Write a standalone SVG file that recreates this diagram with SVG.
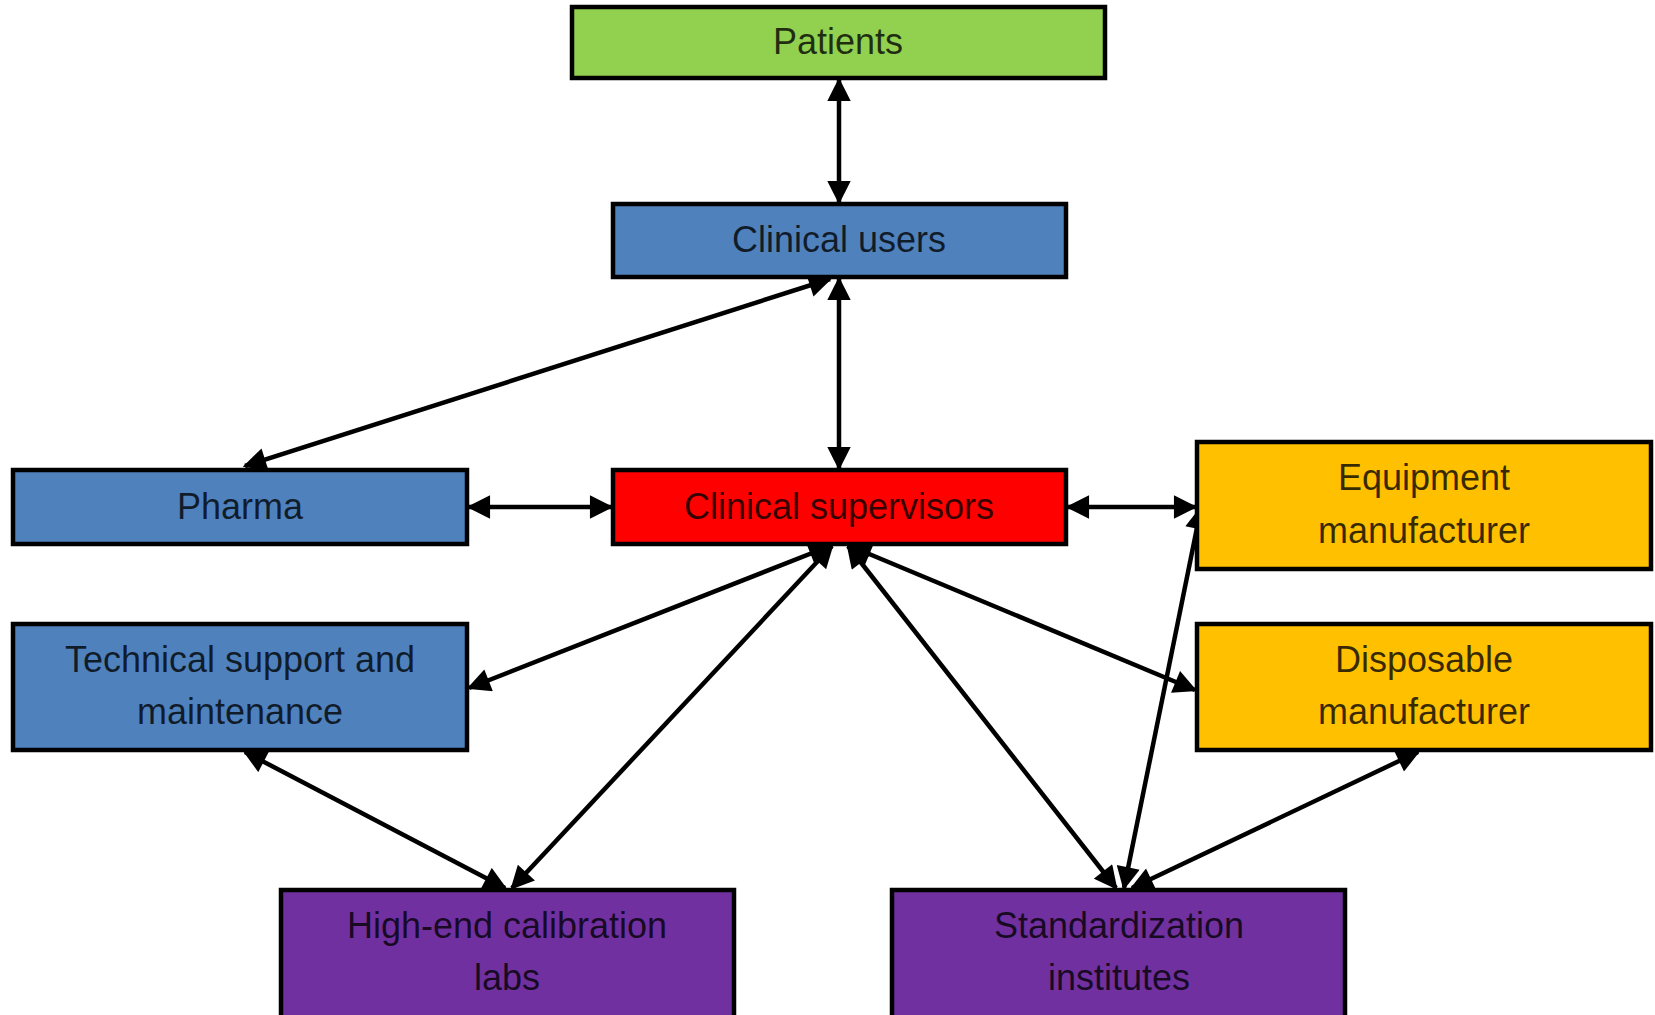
<svg xmlns="http://www.w3.org/2000/svg" width="1655" height="1015" viewBox="0 0 1655 1015">
<style>
.box{stroke:#000;stroke-width:4.5}
.t{font-family:"Liberation Sans",Arial,sans-serif;font-size:36px;text-anchor:middle;fill:#000;fill-opacity:0.78}
.c{stroke:#000;stroke-width:4.5;fill:none;marker-start:url(#ah);marker-end:url(#ah)}
</style>
<defs>
<marker id="ah" viewBox="0 0 10 10" refX="9" refY="5" markerWidth="5.5" markerHeight="5.2" orient="auto-start-reverse">
<path d="M0,0 L10,5 L0,10 z" fill="#000"/>
</marker>
</defs>
<rect width="1655" height="1015" fill="#fff"/>
<g id="connectors">
<line class="c" x1="839" y1="80" x2="839" y2="202"/>
<line class="c" x1="830" y1="279" x2="245" y2="466"/>
<line class="c" x1="839" y1="279" x2="839" y2="468"/>
<line class="c" x1="469" y1="507" x2="611" y2="507"/>
<line class="c" x1="1068" y1="507" x2="1195" y2="507"/>
<line class="c" x1="830" y1="546" x2="469" y2="688"/>
<line class="c" x1="832" y1="546" x2="512" y2="888"/>
<line class="c" x1="848" y1="546" x2="1116" y2="888"/>
<line class="c" x1="850" y1="546" x2="1195" y2="690"/>
<line class="c" x1="245" y1="752" x2="505" y2="888"/>
<line class="c" x1="1124" y1="888" x2="1201" y2="508"/>
<line class="c" x1="1132" y1="888" x2="1418" y2="752"/>
</g>
<g id="patients">
<rect class="box" x="572" y="7" width="533" height="71" fill="#92D050"/>
<text class="t" x="838" y="54">Patients</text>
</g>
<g id="clinical-users">
<rect class="box" x="613" y="204" width="453" height="73" fill="#4F81BD"/>
<text class="t" x="839" y="252">Clinical users</text>
</g>
<g id="pharma">
<rect class="box" x="13" y="470" width="454" height="74" fill="#4F81BD"/>
<text class="t" x="240" y="519">Pharma</text>
</g>
<g id="clinical-supervisors">
<rect class="box" x="613" y="470" width="453" height="74" fill="#FF0000"/>
<text class="t" x="839" y="519">Clinical supervisors</text>
</g>
<g id="equipment-manufacturer">
<rect class="box" x="1197" y="442" width="454" height="127" fill="#FFC000"/>
<text class="t" x="1424" y="490">Equipment</text>
<text class="t" x="1424" y="543">manufacturer</text>
</g>
<g id="technical-support">
<rect class="box" x="13" y="624" width="454" height="126" fill="#4F81BD"/>
<text class="t" x="240" y="672">Technical support and</text>
<text class="t" x="240" y="724">maintenance</text>
</g>
<g id="disposable-manufacturer">
<rect class="box" x="1197" y="624" width="454" height="126" fill="#FFC000"/>
<text class="t" x="1424" y="672">Disposable</text>
<text class="t" x="1424" y="724">manufacturer</text>
</g>
<g id="calibration-labs">
<rect class="box" x="281" y="890" width="453" height="130" fill="#7030A0"/>
<text class="t" x="507" y="938">High-end calibration</text>
<text class="t" x="507" y="990">labs</text>
</g>
<g id="standardization-institutes">
<rect class="box" x="892" y="890" width="453" height="130" fill="#7030A0"/>
<text class="t" x="1119" y="938">Standardization</text>
<text class="t" x="1119" y="990">institutes</text>
</g>
</svg>
